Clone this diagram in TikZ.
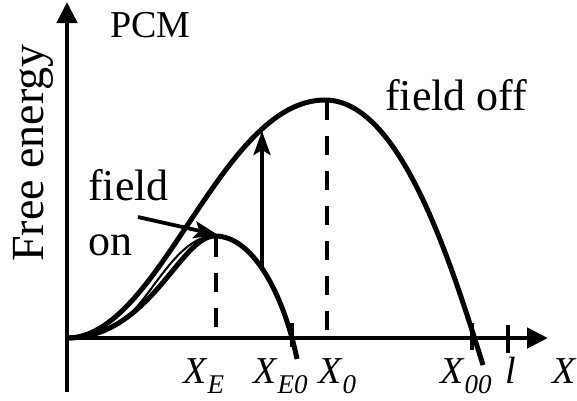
\documentclass[tikz,border=0pt]{standalone}
\usepackage{fontspec}
\setmainfont{Liberation Serif}
\usepackage{tikz}
\usetikzlibrary{arrows.meta}

% X with an italic subscript
\newcommand{\Xsub}[1]{\textit{X}\raisebox{-10pt}{\fontsize{27}{27}\selectfont\textit{#1}}}

\begin{document}
\begin{tikzpicture}[x=1pt,y=-1pt,
  curve/.style={line width=5pt},
  axis/.style={line width=4.8pt,-{Triangle[length=21pt,width=20pt]}},
  guide/.style={line width=4.8pt,dash pattern=on 19pt off 16pt},
  tickmark/.style={line width=4.8pt},
  pointer/.style={line width=3.8pt,-{Stealth[length=24pt,width=17pt,inset=5pt]}},
  txt/.style={font=\fontsize{44}{48}\selectfont,inner sep=0pt,anchor=base west},
  xlab/.style={font=\fontsize{38}{40}\selectfont,inner sep=0pt,anchor=base west}]
  \useasboundingbox (0,0) rectangle (577,400);
  % axes
  \coordinate (O) at (67,338);
  \coordinate (ybot) at (67,392);
  \coordinate (ytop) at (67,2);
  \coordinate (xend) at (548,338);
  \draw[axis] (ybot) -- (ytop);
  \draw[axis] (O) -- (xend);
  % the two free energy curves
  \coordinate (peakoff) at (325,100);
  \coordinate (endoff) at (483,365);
  \coordinate (peakon) at (215,236);
  \coordinate (endon) at (297,359);
  \draw[curve] (O) .. controls (160,338) and (220,100) .. (peakoff)
    .. controls (400,100) and (450,260) .. (endoff);
  \draw[curve] (O) .. controls (150,338) and (180,236) .. (peakon)
    .. controls (255,236) and (285,300) .. (endon);
  \draw[line width=2pt] (125,318) .. controls (150,300) and (175,240) .. (211,236);
  % maxima
  \coordinate (xe) at (216,338);
  \coordinate (x0) at (327,338);
  \draw[guide] (216,238) -- (xe);
  \draw[guide] (327,101) -- (x0);
  % ticks on the X axis
  \draw[tickmark] (292,323) -- (292,347);
  \draw[tickmark] (472,323) -- (472,350);
  \draw[tickmark] (508,325) -- (508,353);
  % switching the field off
  \coordinate (arrlow) at (262,270);
  \coordinate (arrhigh) at (262,131);
  \draw[pointer] (arrlow) -- (arrhigh);
  % labels
  \node[font=\fontsize{38}{40}\selectfont,inner sep=0pt,anchor=base west] (pcm) at (110,37) {PCM};
  \node[txt,font=\fontsize{46}{48}\selectfont,rotate=90] (fe) at (43,262) {Free energy};
  \node[txt] (offlbl) at (385,110) {field off};
  \node[txt] (fieldlbl) at (88,200) {field};
  \node[txt] (onlbl) at (88,255) {on};
  \coordinate (ontip) at (218,235);
  \draw[pointer] (138,217) -- (ontip);
  \node[xlab] (lxe) at (183,383) {\Xsub{E}};
  \node[xlab] (lxe0) at (253,383) {\Xsub{E0}};
  \node[xlab] (lx0) at (318,383) {\Xsub{0}};
  \node[xlab] (lx00) at (440,383) {\Xsub{00}};
  \node[xlab] (ll) at (505,383) {\textit{l}};
  \node[xlab] (lx) at (552,383) {\textit{X}};
\end{tikzpicture}
\end{document}
